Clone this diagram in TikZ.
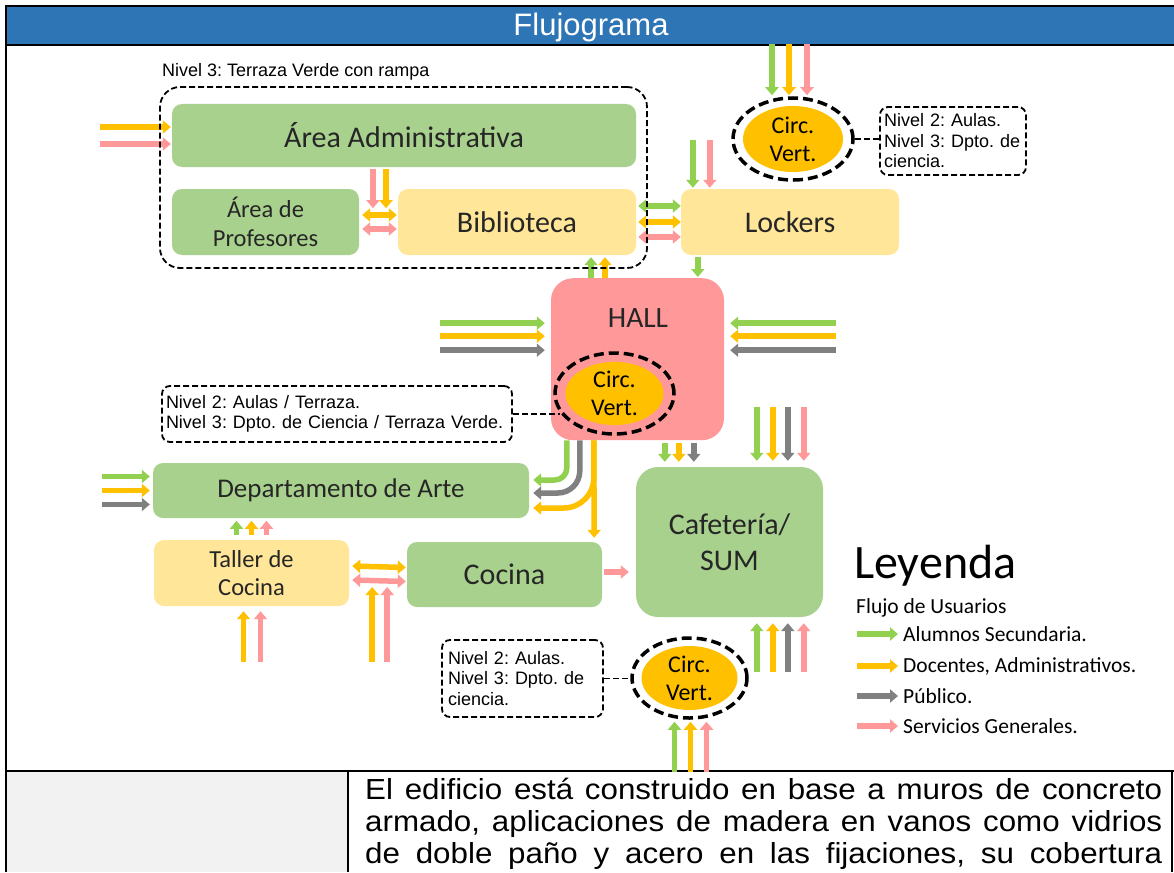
\documentclass[tikz,border=0pt]{standalone}
\usepackage{fontspec}
\setmainfont{Carlito}
\newfontfamily\arialf{Liberation Sans}
\usetikzlibrary{arrows.meta,shapes.geometric,calc}
\definecolor{hdrblue}{HTML}{2E75B6}
\definecolor{boxgreen}{HTML}{A9D18E}
\definecolor{boxyellow}{HTML}{FFE699}
\definecolor{boxpink}{HTML}{FF9999}
\definecolor{circorange}{HTML}{FFC000}
\definecolor{fgreen}{HTML}{92D050}
\definecolor{fyellow}{HTML}{FFC000}
\definecolor{fgray}{HTML}{808080}
\definecolor{fpink}{HTML}{FF9999}
\definecolor{cellgray}{HTML}{F2F2F2}
\tikzset{
  area/.style={rectangle,rounded corners=10pt,draw=none,inner sep=2pt,align=center,
    font=\fontsize{30}{32}\selectfont,text=black!85},
  garea/.style={area,fill=boxgreen},
  yarea/.style={area,fill=boxyellow},
  ring/.style={ellipse,draw=black,line width=3.5pt,dash pattern=on 10pt off 5pt},
  circfill/.style={ellipse,fill=circorange,inner sep=0pt,align=center,
    font=\fontsize{24}{28}\selectfont},
  note/.style={rectangle,rounded corners=8pt,draw=black,line width=1.8pt,
    dash pattern=on 6pt off 3pt,fill=white,align=left,inner sep=4pt,
    font=\arialf\fontsize{18}{20.5}\selectfont},
  link/.style={draw=black,line width=1.8pt,dash pattern=on 6pt off 3pt},
  flow/.style={line width=5.5pt,-{Triangle[length=8pt,width=13pt]}},
  flowboth/.style={line width=5.5pt,{Triangle[length=8pt,width=13pt]}-{Triangle[length=8pt,width=13pt]}},
  legtext/.style={anchor=west,inner sep=0pt,font=\fontsize{21.5}{24}\selectfont},
  bodytext/.style={anchor=base west,inner sep=0pt,font=\arialf\fontsize{29}{32}\selectfont},
}
\newcommand{\bodyline}[1]{\scalebox{1.08}[1]{\makebox[738pt][s]{#1}}}

\begin{document}
\frenchspacing
\begin{tikzpicture}[x=1pt,y=-1pt]
  \useasboundingbox (0,0) rectangle (1174,872);
  \clip (0,0) rectangle (1174,872);

  % frame and header
  \fill[hdrblue] (6,6) rectangle (1174,45);
  \node[text=white,font=\arialf\fontsize{31}{33}\selectfont] (hdr) at (591,27) {Flujograma};
  \fill[cellgray] (6,771) rectangle (348,872);
  \draw[line width=2pt] (6,872) -- (6,6) -- (1174,6);
  \draw[line width=2pt] (6,45) -- (1174,45);
  \draw[line width=1.5pt] (6,771) -- (1174,771);
  \draw[line width=1.5pt] (348,771) -- (348,872);
  \draw[line width=1.5pt] (1172,771) -- (1172,872);

  % areas
  \node[garea,minimum width=464,minimum height=63] (admin) at (404,135.5) {Área Administrativa};
  \node[garea,minimum width=187,minimum height=66,font=\fontsize{24.5}{29}\selectfont] (prof) at (265.5,222) {Área de\\Profesores};
  \node[yarea,minimum width=238,minimum height=66] (bib) at (517,222) {Biblioteca};
  \node[yarea,minimum width=218,minimum height=66] (lock) at (790,222) {Lockers};
  \node[area,fill=boxpink,rounded corners=22pt,minimum width=173,minimum height=162,
    anchor=north] (hall) at (637.5,278) {};
  \node[font=\fontsize{29.5}{31}\selectfont,text=black!85] (halltxt) at (638,318) {HALL};
  \node[garea,rounded corners=22pt,minimum width=187,minimum height=150,
    font=\fontsize{30}{36}\selectfont] (cafe) at (729.5,542) {Cafetería/\\SUM};
  \node[garea,minimum width=376,minimum height=55,font=\fontsize{27}{30}\selectfont] (arte) at (341,490.5) {Departamento de Arte};
  \node[yarea,minimum width=195,minimum height=66,font=\fontsize{24.5}{28}\selectfont] (taller) at (251.5,573) {Taller de\\Cocina};
  \node[garea,minimum width=195,minimum height=65] (cocina) at (504.5,574.5) {Cocina};

  % vertical circulation
  \node[circfill,minimum width=100,minimum height=66] (cv1in) at (793,139) {Circ.\\Vert.};
  \node[ring,minimum width=120,minimum height=82] (cv1) at (793,139) {};
  \node[circfill,minimum width=98,minimum height=63] (cv2in) at (614.5,393.5) {Circ.\\Vert.};
  \node[ring,minimum width=119,minimum height=81] (cv2) at (614.5,393.5) {};
  \node[circfill,minimum width=96,minimum height=64] (cv3in) at (689.5,678) {Circ.\\Vert.};
  \node[ring,minimum width=115,minimum height=80] (cv3) at (689.5,678) {};

  % notes
  \node[note,text width=138,minimum height=68] (note1) at (953,141) {Nivel 2: Aulas.\\Nivel 3: Dpto. de\\ciencia.};
  \node[note,text width=342,minimum height=56] (note2) at (337,414) {Nivel 2: Aulas / Terraza.\\Nivel 3: Dpto. de Ciencia / Terraza Verde.};
  \node[note,text width=149,minimum height=77,inner xsep=6pt] (note3) at (522.5,678.5) {Nivel 2: Aulas.\\Nivel 3: Dpto. de\\ciencia.};
  \draw[link] (cv1.east) -- (cv1.east -| note1.west);
  \draw[link] (note2.east) -- (note2.east -| cv2.200);
  \draw[link] (note3.east) -- (note3.east -| cv3.west);

  % flows: upper block
  \draw[flow,fyellow] ([shift={(-72,-8.5)}]admin.west) -- ([shift={(-1,-8.5)}]admin.west);
  \draw[flow,fpink] ([shift={(-72,8.5)}]admin.west) -- ([shift={(-1,8.5)}]admin.west);
  \draw[flow,fpink] ([shift={(-31,2)}]admin.south) -- ([shift={(-31,41)}]admin.south);
  \draw[flow,fyellow] ([shift={(-18,2)}]admin.south) -- ([shift={(-18,41)}]admin.south);
  \draw[flowboth,fyellow] ([shift={(3,-7)}]prof.east) -- ([shift={(-1,-7)}]bib.west);
  \draw[flowboth,fpink] ([shift={(3,7)}]prof.east) -- ([shift={(-1,7)}]bib.west);
  \foreach \c/\dy in {fgreen/-16,fyellow/0,fpink/15}
    \draw[flowboth,\c] ([shift={(2,\dy)}]bib.east) -- ([shift={(0,\dy)}]lock.west);
  \foreach \c/\dx in {fgreen/-21,fyellow/-4,fpink/14}
    \draw[flow,\c] ([shift={(\dx,-52)}]cv1.north) -- ([shift={(\dx,-1)}]cv1.north);
  \draw[flow,fgreen] ([shift={(12,-49)}]lock.north west) -- ([shift={(12,-1)}]lock.north west);
  \draw[flow,fpink] ([shift={(29,-49)}]lock.north west) -- ([shift={(29,-1)}]lock.north west);
  \draw[flow,fgreen] ([shift={(17,2)}]lock.south west) -- ([shift={(17,-1)}]lock.south west |- hall.north);
  \draw[flow,fgreen] ([shift={(74,23)}]bib.south) -- ([shift={(74,2)}]bib.south);
  \draw[flow,fyellow] ([shift={(88,23)}]bib.south) -- ([shift={(88,2)}]bib.south);

  % flows: hall
  \foreach \c/\dy in {fgreen/-36,fyellow/-23,fgray/-9}{
    \draw[flow,\c] ([shift={(-111,\dy)}]hall.west) -- ([shift={(-6,\dy)}]hall.west);
    \draw[flow,\c] ([shift={(112,\dy)}]hall.east) -- ([shift={(6,\dy)}]hall.east);
  }
  \foreach \c/\dx in {fgreen/29,fyellow/43,fgray/58}
    \draw[flow,\c] ([shift={(\dx,-24)}]cafe.north west) -- ([shift={(\dx,-5)}]cafe.north west);
  \draw[flow,fgreen,rounded corners=12pt] ([shift={(16,0)}]hall.south west) |- ([shift={(4,-10.5)}]arte.east);
  \draw[flow,fgray,rounded corners=22pt] ([shift={(29,0)}]hall.south west) |- ([shift={(4,2.5)}]arte.east);
  \draw[flow,fyellow,rounded corners=30pt] ([shift={(43,0)}]hall.south west) |- ([shift={(4,17.5)}]arte.east);
  \draw[flow,fyellow] ([shift={(43,0)}]hall.south west) -- ([shift={(-8,-4)}]cocina.north east);

  % flows: cafeteria
  \foreach \c/\dx in {fgreen/121,fyellow/137,fgray/152,fpink/168}{
    \draw[flow,\c] ([shift={(\dx,-60)}]cafe.north west) -- ([shift={(\dx,-6)}]cafe.north west);
    \draw[flow,\c] ([shift={(\dx,55)}]cafe.south west) -- ([shift={(\dx,6)}]cafe.south west);
  }
  \draw[flow,fpink] ([shift={(2,-2.5)}]cocina.east) -- ([shift={(-7,-2.5)}]cocina.east -| cafe.west);
  \foreach \c/\dx in {fgreen/-15,fyellow/1,fpink/17}
    \draw[flow,\c] ([shift={(\dx,52)}]cv3.south) -- ([shift={(\dx,2)}]cv3.south);

  % flows: lower block
  \foreach \c/\dy in {fgreen/-14,fyellow/0,fgray/14}
    \draw[flow,\c] ([shift={(-51,\dy)}]arte.west) -- ([shift={(-3,\dy)}]arte.west);
  \foreach \c/\dx in {fgreen/-15,fyellow/0,fpink/15}
    \draw[flow,\c,line width=4.5pt] ([shift={(\dx,-5)}]taller.north) -- ([shift={(\dx,-19)}]taller.north);
  \draw[flow,fyellow] ([shift={(-8,56)}]taller.south) -- ([shift={(-8,5)}]taller.south);
  \draw[flow,fpink] ([shift={(9,56)}]taller.south) -- ([shift={(9,5)}]taller.south);
  \draw[flowboth,fyellow] ([shift={(3,-7)}]taller.east) -- ([shift={(-1,-7)}]cocina.west);
  \draw[flowboth,fpink] ([shift={(3,7)}]taller.east) -- ([shift={(-1,7)}]cocina.west);
  \draw[flow,fyellow] ([shift={(23,89)}]taller.east) -- ([shift={(23,14)}]taller.east);
  \draw[flow,fpink] ([shift={(38,89)}]taller.east) -- ([shift={(38,14)}]taller.east);

  % level 3 group
  \node[draw=black,line width=1.8pt,dash pattern=on 6pt off 3pt,rounded corners=20pt,
    minimum width=487,minimum height=181] (nivel3) at (403.5,177.5) {};
  \node[anchor=west,inner sep=0pt,font=\arialf\fontsize{18}{20}\selectfont] (nivel3lbl) at (162,72) {Nivel 3: Terraza Verde con rampa};

  % legend
  \node[anchor=west,inner sep=0pt,font=\fontsize{48}{52}\selectfont] (leyenda) at (854,566) {Leyenda};
  \node[anchor=west,inner sep=0pt,font=\fontsize{21.5}{24}\selectfont] (flujo) at (856,608) {Flujo de Usuarios};
  \foreach \i/\c/\y/\t in {1/fgreen/634/{Alumnos Secundaria.},2/fyellow/666/{Docentes, Administrativos.},
                           3/fgray/696/{Público.},4/fpink/726/{Servicios Generales.}}{
    \node[legtext] (leg\i) at (903,\y) {\t};
    \draw[flow,\c] ([shift={(-46,0)}]leg\i.west) -- ([shift={(-5,0)}]leg\i.west);
  }

  % description cell
  \node[bodytext] (body1) at (365,799) {\bodyline{El edificio está construido en base a muros de concreto}};
  \node[bodytext] (body2) at (365,831) {\bodyline{armado, aplicaciones de madera en vanos como vidrios}};
  \node[bodytext] (body3) at (365,863) {\bodyline{de doble paño y acero en las fijaciones, su cobertura}};
\end{tikzpicture}
\end{document}
